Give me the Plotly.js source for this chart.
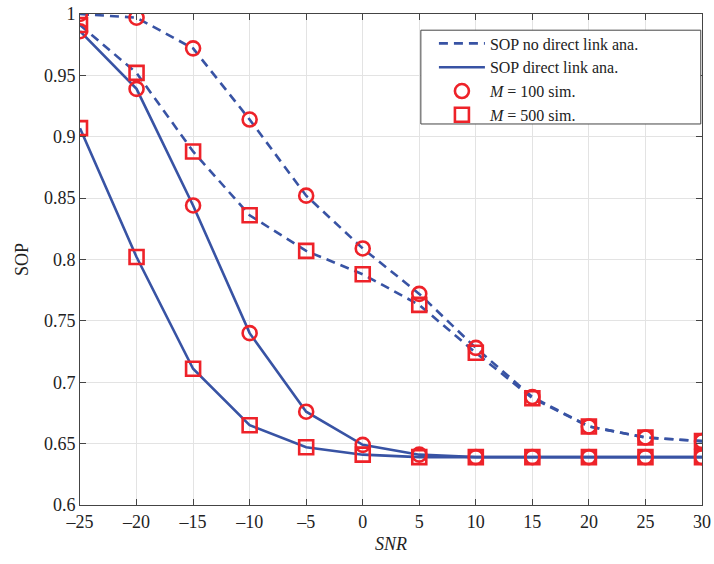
<!DOCTYPE html>
<html>
<head>
<meta charset="utf-8">
<script src="https://cdn.plot.ly/plotly-3.0.1.min.js"></script>
<style>body{margin:0;padding:0;background:#fff}#chart{width:714px;height:564px}</style>
</head>
<body>
<div id="chart"></div>
<script>
const snr = [-25, -20, -15, -10, -5, 0, 5, 10, 15, 20, 25, 30];
const noDirect100 = [1.000, 0.997, 0.972, 0.914, 0.852, 0.809, 0.772, 0.728, 0.688, 0.664, 0.655, 0.652];
const noDirect500 = [0.991, 0.952, 0.888, 0.836, 0.807, 0.788, 0.763, 0.724, 0.687, 0.664, 0.655, 0.652];
const direct100 = [0.986, 0.939, 0.844, 0.740, 0.676, 0.649, 0.641, 0.639, 0.639, 0.639, 0.639, 0.639];
const direct500 = [0.907, 0.802, 0.711, 0.665, 0.647, 0.641, 0.639, 0.639, 0.639, 0.639, 0.639, 0.639];
const xTickVals = [-25, -20, -15, -10, -5, 0, 5, 10, 15, 20, 25, 30];
const xTickText = ['\u201325', '\u201320', '\u201315', '\u201310', '\u20135', '0', '5', '10', '15', '20', '25', '30'];
const yTickVals = [0.6, 0.65, 0.7, 0.75, 0.8, 0.85, 0.9, 0.95, 1];
const yTickText = ['0.6', '0.65', '0.7', '0.75', '0.8', '0.85', '0.9', '0.95', '1'];

const FONT = 'Liberation Serif';
const blue = '#3853a4';
const red = '#ee2229';
const dash = '9px,6px';
const mk = (sym) => ({symbol: sym, size: 14, color: red, line: {color: red, width: 2.6}});

const traces = [
  {x: snr, y: noDirect100, mode: 'lines', line: {color: blue, width: 2.6, dash: dash}, showlegend: false},
  {x: snr, y: noDirect500, mode: 'lines', line: {color: blue, width: 2.6, dash: dash}, showlegend: false},
  {x: snr, y: direct100, mode: 'lines', line: {color: blue, width: 2.6}, showlegend: false},
  {x: snr, y: direct500, mode: 'lines', line: {color: blue, width: 2.6}, showlegend: false},
  {x: snr, y: noDirect100, mode: 'markers', marker: mk('circle-open'), showlegend: false},
  {x: snr, y: direct100, mode: 'markers', marker: mk('circle-open'), showlegend: false},
  {x: snr, y: noDirect500, mode: 'markers', marker: mk('square-open'), showlegend: false},
  {x: snr, y: direct500, mode: 'markers', marker: mk('square-open'), showlegend: false},
  {x: [null], y: [null], mode: 'lines', name: 'SOP no direct link ana.', line: {color: blue, width: 2.6, dash: dash}},
  {x: [null], y: [null], mode: 'lines', name: 'SOP direct link ana.', line: {color: blue, width: 2.6}},
  {x: [null], y: [null], mode: 'markers', name: '<i>M</i> = 100 sim.', marker: mk('circle-open')},
  {x: [null], y: [null], mode: 'markers', name: '<i>M</i> = 500 sim.', marker: mk('square-open')}
];

const axisCommon = {
  showline: true, mirror: 'ticks', linecolor: '#444', linewidth: 1,
  ticks: 'inside', ticklen: 6, tickcolor: '#444',
  showgrid: true, gridcolor: '#e3e3e3', gridwidth: 1, zeroline: false,
  tickfont: {family: FONT, size: 18, color: '#222'}
};

const layout = {
  width: 714, height: 564,
  margin: {l: 80, r: 12, t: 14, b: 59},
  paper_bgcolor: '#fff', plot_bgcolor: '#fff',
  font: {family: FONT, color: '#222'},
  xaxis: Object.assign({}, axisCommon, {
    range: [-25, 30], tickmode: 'array', tickvals: xTickVals, ticktext: xTickText,
    title: {text: '<i>SNR</i>', font: {size: 18, family: FONT}, standoff: 6}
  }),
  yaxis: Object.assign({}, axisCommon, {
    range: [0.6, 1], tickmode: 'array', tickvals: yTickVals, ticktext: yTickText,
    title: {text: 'SOP', font: {size: 18, family: FONT}, standoff: 10}
  }),
  shapes: [{
    type: 'rect', xref: 'paper', yref: 'paper', layer: 'above',
    x0: 0.548, x1: 0.998, y0: 0.776, y1: 0.967,
    fillcolor: '#fff', line: {color: '#444', width: 1}
  }],
  legend: {
    x: 0.569, y: 0.9745, xanchor: 'left', yanchor: 'top',
    bgcolor: 'rgba(0,0,0,0)', borderwidth: 0,
    font: {family: FONT, size: 16, color: '#222'},
    tracegroupgap: 0, itemwidth: 46
  }
};

Plotly.newPlot('chart', traces, layout, {displayModeBar: false, staticPlot: true});
</script>
</body>
</html>
